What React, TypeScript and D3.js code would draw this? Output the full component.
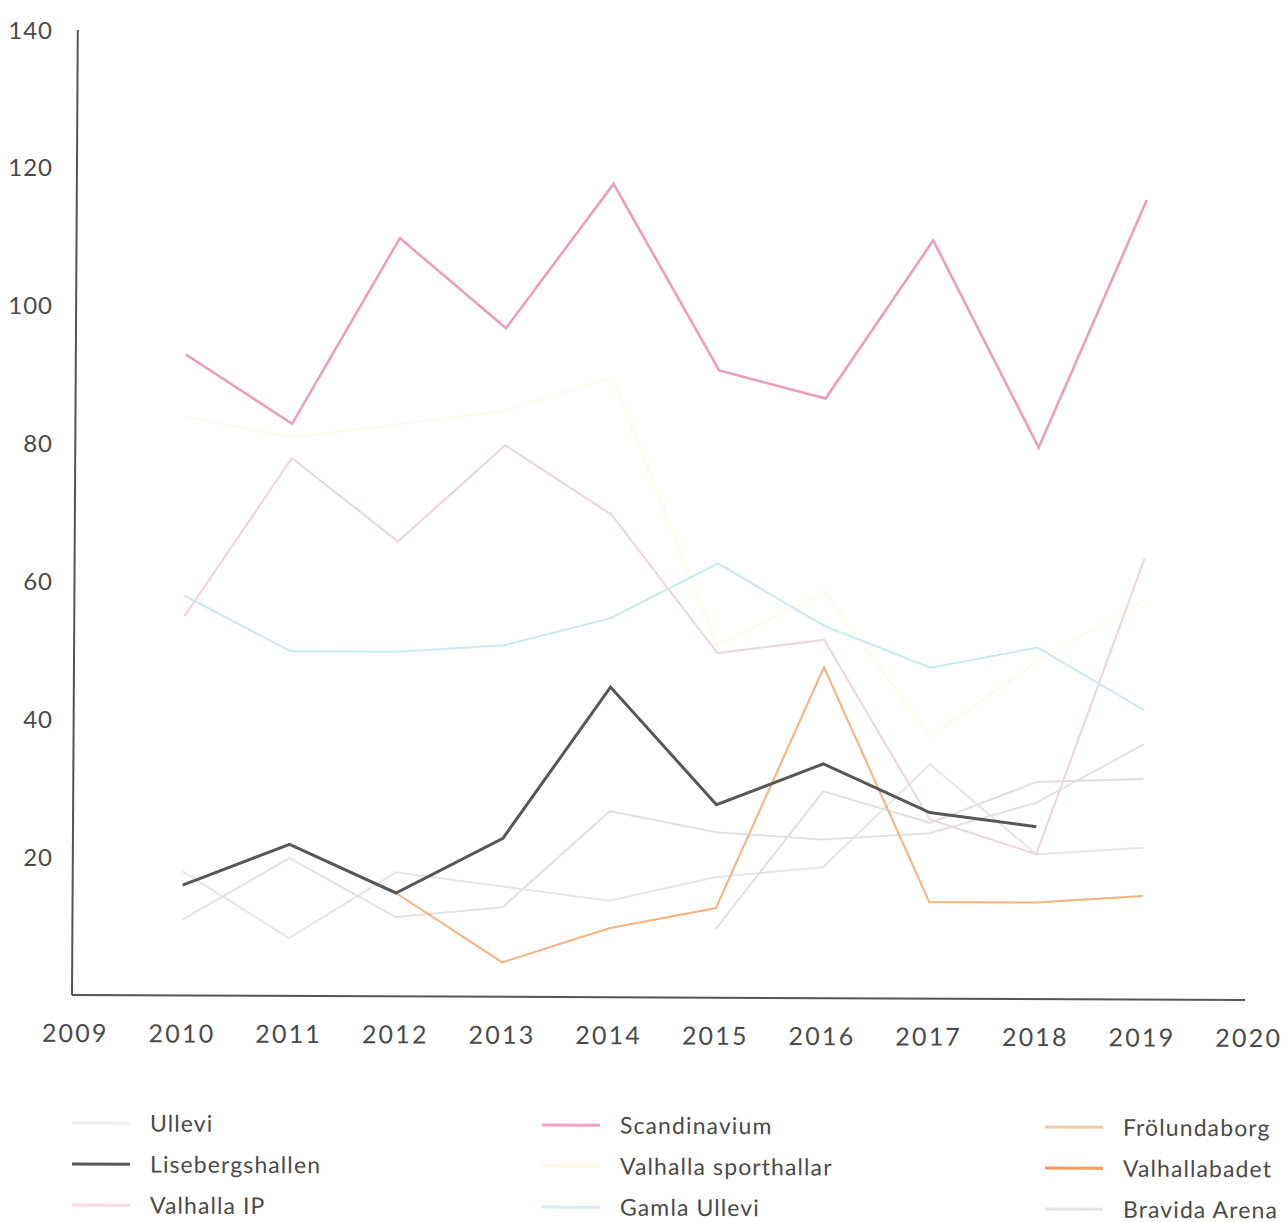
import React from "react";
import * as d3 from "d3";

const years = [2010, 2011, 2012, 2013, 2014, 2015, 2016, 2017, 2018, 2019];
const xTickYears = [2009, 2010, 2011, 2012, 2013, 2014, 2015, 2016, 2017, 2018, 2019, 2020];
const yTickValues = [20, 40, 60, 80, 100, 120, 140];

const ullevi = [18, 8.4, 18, 16, 14, 17.5, 19, 34, 21, 22];
const lisebergshallen = [16, 22, 15, 23, 45, 28, 34, 27, 25, null];
const valhallaIP = [55, 78, 66, 80, 70, 50, 52, 26, 21, 64];
const scandinavium = [93, 83, 110, 97, 118, 91, 87, 110, 80, 116];
const valhallaSporthallar = [84, 81, 83, 85, 90, 51, 59, 38, 49, 58];
const gamlaUllevi = [58, 50, 50, 51, 55, 63, 54, 48, 51, 42];
const frolundaborg = [null, null, 15, 5, 10, 13, 48, 14, 14, 15];
const valhallabadet = [11, 20, 11.5, 13, 27, 24, 23, 24, 28.5, 37];
const bravidaArena = [null, null, null, null, null, 10, 30, 25.5, 31.5, 32];

const legendNames = [
  ["Ullevi", "Lisebergshallen", "Valhalla IP"],
  ["Scandinavium", "Valhalla sporthallar", "Gamla Ullevi"],
  ["Frölundaborg", "Valhallabadet", "Bravida Arena"],
];
const legendColors = [
  ["#eeeeee", "#555555", "#f6dbe2"],
  ["#f4a2c4", "#fcfae4", "#d2eff3"],
  ["#f8c8a0", "#ef9e5c", "#e4e4e4"],
];

// draw order: faint first, strong last
const series = [
  { name: "Ullevi", values: ullevi, color: "#e6e6e6", width: 2 },
  { name: "Valhallabadet", values: valhallabadet, color: "#e2e2e2", width: 2 },
  { name: "Bravida Arena", values: bravidaArena, color: "#e0e0e0", width: 2 },
  { name: "Valhalla sporthallar", values: valhallaSporthallar, color: "#fdfbe8", width: 2 },
  { name: "Gamla Ullevi", values: gamlaUllevi, color: "#c6eaf0", width: 2 },
  { name: "Valhalla IP", values: valhallaIP, color: "#ebd5da", width: 2 },
  { name: "Frölundaborg", values: frolundaborg, color: "#f4b27c", width: 2 },
  { name: "Scandinavium", values: scandinavium, color: "#ee9abd", width: 2.5 },
  { name: "Lisebergshallen", values: lisebergshallen, color: "#575757", width: 3 },
];

const W = 1288;
const H = 1222;
const ox = 72;
const oy = 995;

export default function App() {
  const x = d3.scaleLinear().domain([2009, 2020]).range([75.3, 1248.7]);
  const y = d3.scaleLinear().domain([0, 140]).range([oy, 30]);
  const line = d3
    .line<number | null>()
    .defined((d) => d !== null)
    .x((_, i) => x(years[i]))
    .y((d) => y(d as number));

  const font = "Lato, 'Open Sans', sans-serif";
  const skew = `translate(${ox},${oy}) matrix(1,0.0042,-0.006,1,0,0) translate(${-ox},${-oy})`;
  const tilt = `translate(${ox},${oy}) matrix(1,0.0042,0,1,0,0) translate(${-ox},${-oy})`;

  return (
    <div style={{ position: "absolute", left: 0, top: 0 }}>
      <svg width={W} height={H} style={{ display: "block", background: "#fff" }}>
        <g transform={skew}>
          {series.map((s) => (
            <path
              key={s.name}
              d={line(s.values) || ""}
              fill="none"
              stroke={s.color}
              strokeWidth={s.width}
              strokeLinejoin="miter"
            />
          ))}
          <line x1={ox} y1={y(0)} x2={1245} y2={y(0)} stroke="#555" strokeWidth={2} />
          <line x1={ox} y1={y(0)} x2={ox} y2={y(140)} stroke="#555" strokeWidth={2} />
        </g>
        {yTickValues.map((v) => (
          <text
            key={v}
            x={53}
            y={y(v)}
            dy="0.36em"
            textAnchor="end"
            fontFamily={font}
            fontSize={24}
            letterSpacing={1}
            fill="#4a4a4a"
          >
            {v}
          </text>
        ))}
        <g transform={tilt}>
          {xTickYears.map((yr) => (
            <text
              key={yr}
              x={x(yr)}
              y={1033}
              dy="0.36em"
              textAnchor="middle"
              fontFamily={font}
              fontSize={25}
              letterSpacing={2.2}
              fill="#4a4a4a"
            >
              {yr}
            </text>
          ))}
          {legendNames.map((col, ci) =>
            col.map((name, ri) => {
              const lx = [72, 542, 1045][ci];
              const ly = 1123 + ri * 41;
              return (
                <g key={name}>
                  <line
                    x1={lx}
                    y1={ly}
                    x2={lx + 58}
                    y2={ly}
                    stroke={legendColors[ci][ri]}
                    strokeWidth={3}
                  />
                  <text
                    x={lx + 78}
                    y={ly}
                    dy="0.36em"
                    fontFamily={font}
                    fontSize={23}
                    letterSpacing={1.1}
                    fill="#4a4a4a"
                  >
                    {name}
                  </text>
                </g>
              );
            })
          )}
        </g>
      </svg>
    </div>
  );
}
